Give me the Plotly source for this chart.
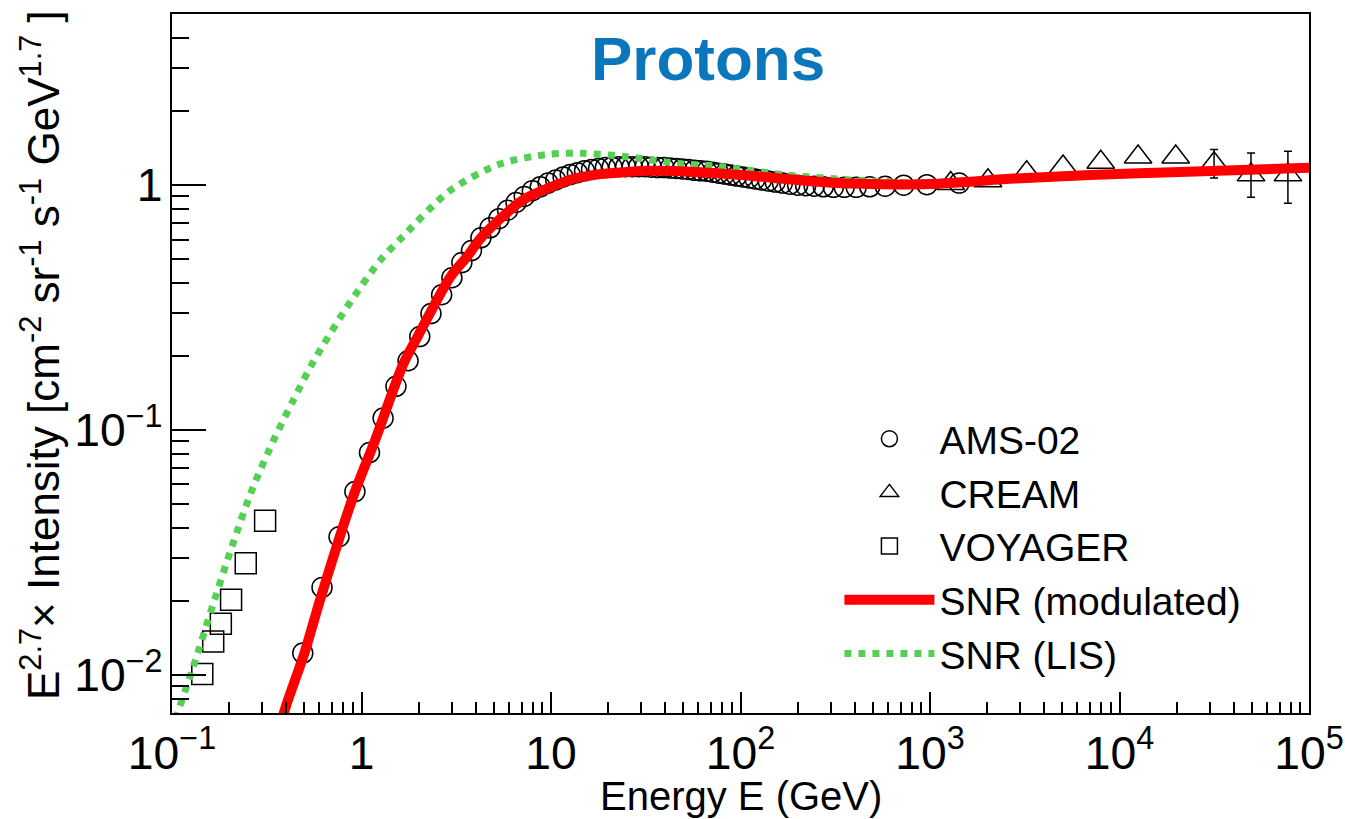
import plotly.graph_objects as go
import math

# ---------------- data ----------------
ams_E = [0.490, 0.619, 0.761, 0.923, 1.102, 1.300, 1.520, 1.761, 2.030, 2.326,
         2.648, 3.000, 3.385, 3.805, 4.267, 4.768, 5.311, 5.900, 6.538, 7.228,
         7.973, 8.778, 9.644, 10.59, 11.59, 12.63, 13.78, 15.03, 16.37, 17.82,
         19.36, 21.01, 22.81, 24.76, 26.81, 29.00, 31.35, 33.85, 36.55, 39.45,
         42.55, 45.84, 49.39, 53.19, 57.23, 61.58, 66.28, 71.32, 76.72, 82.52,
         88.76, 95.51, 103.0, 111.0, 119.5, 129.0, 140.0, 152.4, 166.4, 182.4,
         200.3, 220.8, 244.7, 273.6, 309.0, 352.7, 407.9, 480.4, 580.1, 726.1,
         962.9, 1425.0]
ams_I = [0.0123, 0.0228, 0.0367, 0.0561, 0.081, 0.112, 0.151, 0.192, 0.241, 0.299,
         0.357, 0.419, 0.483, 0.541, 0.61, 0.67, 0.73, 0.79, 0.85, 0.90,
         0.95, 0.985, 1.02, 1.05, 1.08, 1.105, 1.125, 1.145, 1.16, 1.17,
         1.18, 1.185, 1.19, 1.19, 1.19, 1.19, 1.19, 1.185, 1.18, 1.18,
         1.175, 1.17, 1.165, 1.16, 1.15, 1.145, 1.14, 1.13, 1.12, 1.11,
         1.10, 1.09, 1.08, 1.07, 1.06, 1.05, 1.04, 1.03, 1.02, 1.01,
         1.00, 0.995, 0.99, 0.985, 0.98, 0.98, 0.98, 0.985, 0.99, 1.00,
         1.005, 1.02]

cream_E = [1286, 2023, 3236, 5035, 7962, 12530, 19800, 31550, 49430, 77400]
cream_I = [1.016, 1.042, 1.125, 1.187, 1.240, 1.303, 1.303, 1.224, 1.102, 1.102]
# visible error bars only on the last three CREAM points
cream_err_idx = [7, 8, 9]
cream_err_up = [0.174, 0.250, 0.274]
cream_err_dn = [0.153, 0.210, 0.258]

voy_E = [0.1445, 0.165, 0.181, 0.205, 0.245, 0.310]
voy_I = [0.0101, 0.0137, 0.0162, 0.0203, 0.0286, 0.0427]

mod_E = [0.37, 0.40, 0.50, 0.60, 0.77, 0.93, 1.18, 1.66, 2.0, 2.93, 3.6, 4.2,
         5.4, 7.1, 9.9, 13, 18, 24, 33, 61, 112, 200, 380, 1000, 2800, 7000,
         20800, 100000]
mod_I = [0.0061, 0.0075, 0.0123, 0.0199, 0.037, 0.057, 0.091, 0.186, 0.245, 0.42,
         0.51, 0.60, 0.73, 0.87, 0.98, 1.06, 1.11, 1.13, 1.145, 1.13, 1.093, 1.05,
         1.015, 1.012, 1.064, 1.10, 1.132, 1.179]

lis_E = [0.104, 0.1295, 0.165, 0.2065, 0.2636, 0.3495, 0.4355, 0.557, 0.836, 1.252,
         1.596, 2.93, 5.38, 9.89, 14.8, 25, 49.8, 71.6, 175, 393, 1000, 2800,
         20800, 100000]
lis_I = [0.0066, 0.0108, 0.0195, 0.0332, 0.0567, 0.0935, 0.132, 0.19, 0.317, 0.492,
         0.60, 0.95, 1.22, 1.34, 1.349, 1.307, 1.22, 1.20, 1.10, 1.05, 1.02, 1.064,
         1.132, 1.179]

x_range = [0.1, 1e5]
y_range = [0.007, 5]

FONT = "Liberation Sans, Arial, Helvetica, sans-serif"

fig = go.Figure()

fig.add_trace(go.Scatter(
    x=ams_E, y=ams_I, mode="markers", name="AMS-02", legendrank=1,
    marker=dict(symbol="circle-open", size=20, color="black", line=dict(width=1.5, color="black")),
))
fig.add_trace(go.Scatter(
    x=[cream_E[i] for i in cream_err_idx], y=[cream_I[i] for i in cream_err_idx],
    mode="markers", showlegend=False, hoverinfo="skip",
    marker=dict(size=1, color="rgba(0,0,0,0)"),
    error_y=dict(type="data", array=cream_err_up, arrayminus=cream_err_dn, symmetric=False,
                 color="black", thickness=1.5, width=4),
))
fig.add_trace(go.Scatter(
    x=cream_E, y=cream_I, mode="markers", name="CREAM", legendrank=2,
    marker=dict(symbol="triangle-up-open", size=24, color="black", line=dict(width=1.5, color="black")),
))
fig.add_trace(go.Scatter(
    x=voy_E, y=voy_I, mode="markers", name="VOYAGER", legendrank=3,
    marker=dict(symbol="square-open", size=21, color="black", line=dict(width=1.5, color="black")),
))
fig.add_trace(go.Scatter(
    x=lis_E, y=lis_I, mode="lines", name="SNR (LIS)", legendrank=5,
    line=dict(color="#55d055", width=7, dash="dot", shape="spline", smoothing=0.8),
))
fig.add_trace(go.Scatter(
    x=mod_E, y=mod_I, mode="lines", name="SNR (modulated)", legendrank=4,
    line=dict(color="#ff0000", width=10, shape="spline", smoothing=0.8),
))

axis_common = dict(
    type="log", showline=True, linecolor="black", linewidth=2, mirror=True,
    ticks="inside", tickcolor="black", tickwidth=1.5, showgrid=False, zeroline=False,
    exponentformat="power", dtick=1,
    tickfont=dict(family=FONT, size=37, color="black"),
)

fig.update_xaxes(
    **axis_common,
    range=[math.log10(x_range[0]), math.log10(x_range[1])],
    ticklen=21,
    minor=dict(ticks="inside", ticklen=11, tickwidth=1.5, tickcolor="black", showgrid=False),
)
fig.update_yaxes(
    **axis_common,
    range=[math.log10(y_range[0]), math.log10(y_range[1])],
    ticklen=34,
    minor=dict(ticks="inside", ticklen=17, tickwidth=1.5, tickcolor="black", showgrid=False),
)

# axis titles
fig.add_annotation(
    text="Energy E (GeV)", xref="paper", yref="paper", x=0.5, y=-0.1516,
    xanchor="center", yanchor="bottom", showarrow=False, borderpad=0,
    font=dict(family=FONT, size=40, color="black"),
)
fig.add_annotation(
    text="E<sup>2.7</sup>× Intensity [cm<sup>-2</sup> sr<sup>-1</sup> s<sup>-1</sup> GeV<sup>1.7</sup> ]",
    xref="paper", yref="paper", x=-0.1161, y=0.512, textangle=-90,
    xanchor="center", yanchor="middle", showarrow=False,
    font=dict(family=FONT, size=44, color="black"),
)

fig.add_annotation(
    text="<b>Protons</b>", xref="paper", yref="paper", x=0.471, y=0.937,
    xanchor="center", yanchor="middle", showarrow=False,
    font=dict(family=FONT, size=62, color="#0a77bd"),
)

fig.update_layout(
    width=1345, height=819,
    margin=dict(l=172, r=36, t=14, b=106, autoexpand=False),
    paper_bgcolor="white", plot_bgcolor="white",
    showlegend=True,
    legend=dict(x=0.587, y=0.438, xanchor="left", yanchor="top",
                font=dict(family=FONT, size=39, color="black"),
                bgcolor="rgba(0,0,0,0)", itemwidth=90, tracegroupgap=0),
    font=dict(family=FONT),
)

fig.write_html("out.html")
